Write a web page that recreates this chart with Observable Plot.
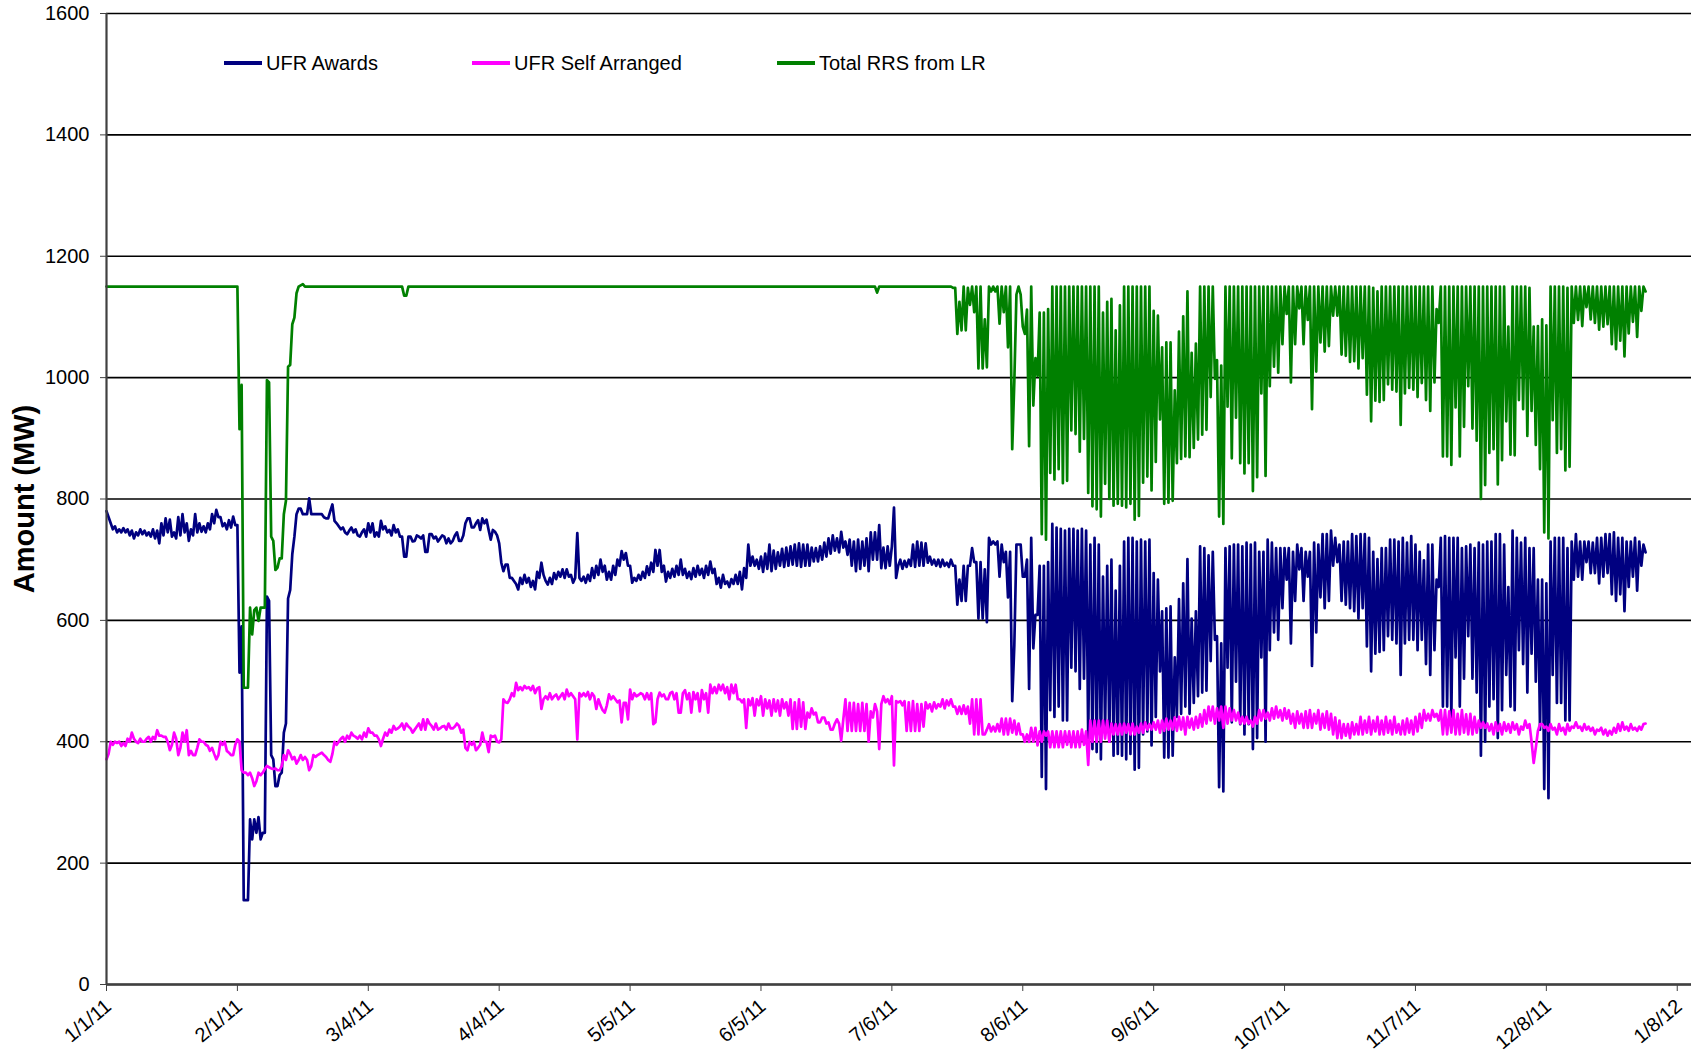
<!DOCTYPE html>
<html><head><meta charset="utf-8">
<script src="https://cdn.jsdelivr.net/npm/d3@7"></script>
<script src="https://cdn.jsdelivr.net/npm/@observablehq/plot@0.6"></script>
<style>
body{margin:0;background:#fff;}
#wrap{position:relative;width:1694px;height:1053px;overflow:hidden;}
.leg{position:absolute;top:50px;height:26px;font-family:"Liberation Sans",Arial,sans-serif;font-size:20px;color:#000;display:flex;align-items:center;white-space:nowrap;}
.sw{display:inline-block;width:38px;height:3.5px;margin-right:4px;}
</style></head>
<body><div id="wrap"></div>
<script>
// 12-hour readings starting 1/1/2011 (two values per day)
const startDate = "2011-01-01";
const stepHours = 12;
const seriesNames = ["UFR Awards", "UFR Self Arranged", "Total RRS from LR"];
const seriesColors = ["#000080", "#FF00FF", "#008000"];

const ufrAwards = [
780,770, 760,750, 755,745, 750,745, 752,745, 750,740, 748,735, 745,740, 750,742, 748,740,
745,738, 750,735, 748,727, 760,740, 768,745, 766,738, 745,735, 770,740, 775,745, 760,731,
750,740, 775,745, 760,746, 755,745, 760,750, 775,760, 782,770, 770,755, 760,750, 765,753,
771,757, 757,514, 590,139, 139,139, 272,239, 272,250, 276,239, 250,250, 639,632, 378,371,
327,327, 345,349, 415,430, 636,650, 709,738, 775,784, 784,775, 775,775, 801,775, 775,775,
775,775, 775,770, 768,768, 780,791, 764,760, 755,750, 753,745, 742,748, 753,745, 750,740,
738,745, 750,738, 760,745, 760,738, 745,738, 764,750, 755,745, 749,740, 757,745, 750,738,
738,705, 705,738, 738,730, 731,740, 738,735, 740,713, 713,742, 742,735, 738,730, 735,740,
738,727, 735,727, 731,740, 745,731, 731,740, 760,768, 768,753, 753,760, 765,749, 768,760,
766,749, 733,749, 746,740, 727,695, 681,692, 692,670, 670,665, 660,651, 670,660, 675,662,
670,655, 665,651, 680,670, 695,675, 665,659, 670,660, 678,668, 680,672, 684,670, 684,672,
675,662, 670,744, 670,665, 672,662, 675,665, 686,670, 690,675, 700,680, 690,667, 680,667,
690,675, 700,690, 714,700, 711,690, 690,662, 670,665, 675,667, 680,670, 689,675, 695,680,
716,690, 716,680, 690,664, 680,670, 685,672, 690,675, 700,675, 685,670, 680,668, 686,672,
690,675, 685,670, 690,675, 697,678, 685,660, 670,654, 675,660, 664,655, 668,660, 675,660,
680,651, 686,670, 725,690, 705,690, 700,685, 705,680, 710,685, 725,681, 715,685, 712,690,
718,688, 720,690, 722,692, 725,690, 727,688, 725,690, 725,690, 720,697, 719,697, 722,700,
728,705, 735,710, 740,715, 735,712, 746,720, 730,708, 733,690, 730,681, 733,685, 730,690,
735,681, 745,700, 745,700, 757,686, 720,686, 722,690, 722,786, 670,690, 700,685, 698,688,
700,690, 725,688, 730,690, 728,690, 727,695, 705,692, 700,690, 700,688, 700,690, 695,688,
700,690, 690,626, 667,632, 690,632, 690,690, 719,696, 696,603, 696,603, 684,597, 736,725,
730,725, 730,672, 725,696, 713,638, 713,467, 559,725, 725,725, 672,672, 700,487, 736,554,
609,609, 690,342, 690,322, 696,452, 759,441, 753,458, 751,435, 748,435, 751,522, 751,516,
748,487, 751,504, 748,406, 725,388, 736,383, 725,371, 672,420, 690,400, 700,377, 649,380,
690,377, 730,371, 736,380, 736,354, 730,357, 733,412, 730,417, 733,394, 678,441, 667,516,
615,374, 620,374, 623,377, 539,441, 635,446, 661,458, 701,446, 603,464, 615,475, 722,481,
719,484, 707,533, 713,568, 574,325, 562,318, 719,522, 722,432, 725,499, 725,429, 722,412,
728,429, 725,388, 728,406, 713,539, 713,400, 733,551, 728,580, 719,568, 719,620, 719,667,
719,562, 713,632, 725,684, 719,632, 713,672, 713,525, 728,580, 725,638, 742,620, 742,632,
748,690, 736,696, 725,632, 730,626, 730,620, 742,615, 739,603, 742,620, 742,557, 736,516,
713,545, 701,548, 719,551, 719,574, 733,568, 733,562, 730,510, 736,562, 728,568, 739,568,
725,551, 713,568, 699,528, 725,510, 725,551, 667,655, 736,458, 739,458, 736,441, 736,539,
736,458, 719,504, 722,574, 725,504, 719,481, 728,377, 725,400, 730,458, 730,470, 742,406,
742,452, 725,510, 655,458, 748,452, 736,551, 728,528, 736,481, 719,545, 719,499, 667,420,
667,322, 661,307, 730,510, 736,464, 736,464, 736,435, 719,435, 730,667, 742,672, 730,667,
730,696, 730,678, 728,678, 736,661, 736,672, 742,678, 742,643, 745,632, 736,643, 736,615,
730,655, 730,672, 736,649, 730,690, 725,712
];

const ufrSelfArranged = [
371,380, 400,395, 400,398, 400,393, 398,393, 405,400, 415,405, 400,398, 405,400, 400,405,
408,400, 408,404, 419,410, 410,408, 408,400, 386,395, 415,405, 378,390, 415,400, 419,378,
385,378, 378,390, 404,400, 400,395, 393,385, 390,380, 371,378, 400,395, 400,385, 382,378,
378,395, 404,400, 353,349, 349,345, 349,340, 327,335, 349,345, 349,355, 360,358, 356,355,
356,353, 353,360, 378,370, 386,380, 371,375, 364,370, 378,370, 375,370, 353,360, 378,375,
378,380, 382,378, 375,370, 367,380, 400,395, 400,405, 408,400, 410,405, 415,410, 408,405,
410,404, 415,408, 422,415, 415,410, 410,404, 393,405, 415,410, 420,415, 426,420, 422,425,
430,420, 430,425, 422,415, 420,425, 430,420, 437,420, 437,430, 426,420, 430,420, 422,425,
426,420, 430,422, 422,425, 430,426, 415,420, 390,386, 400,395, 400,386, 390,395, 415,400,
400,383, 410,408, 410,400, 399,404, 470,465, 464,470, 480,475, 497,485, 490,485, 492,488,
490,485, 492,480, 488,490, 454,470, 475,470, 480,470, 475,478, 470,475, 480,470, 486,475,
480,475, 470,404, 480,475, 480,475, 482,470, 480,475, 454,470, 460,452, 448,460, 478,470,
475,470, 465,468, 432,464, 464,437, 486,470, 480,475, 477,480, 478,470, 480,470, 480,429,
432,470, 481,475, 478,470, 470,480, 482,470, 480,448, 448,480, 485,470, 480,448, 482,470,
480,450, 485,470, 480,448, 494,480, 490,480, 494,485, 494,480, 490,470, 494,480, 494,470,
470,465, 470,423, 470,460, 472,443, 470,460, 475,443, 470,455, 468,443, 470,450, 468,443,
470,455, 465,443, 470,421, 465,421, 470,425, 465,421, 448,440, 455,445, 448,432, 432,440,
440,430, 432,420, 420,430, 437,430, 402,437, 470,418, 464,418, 464,418, 462,418, 464,418,
462,400, 450,440, 462,450, 388,462, 475,465, 470,462, 475,361, 467,465, 467,460, 467,418,
465,418, 467,418, 462,418, 462,425, 465,455, 462,450, 465,455, 462,458, 470,455, 468,460,
470,458, 458,446, 458,446, 460,446, 458,430, 470,412, 470,412, 470,412, 412,420, 429,417,
425,417, 429,417, 438,412, 438,412, 438,415, 435,412, 430,412, 412,400, 412,400, 423,400,
423,394, 417,400, 417,410, 417,391, 417,391, 417,391, 417,391, 417,395, 417,391, 417,391,
417,391, 420,395, 417,362, 435,400, 435,400, 435,400, 435,405, 435,400, 430,412, 429,412,
429,412, 430,415, 429,412, 430,412, 425,415, 430,415, 432,420, 429,420, 432,420, 435,415,
435,418, 438,420, 435,420, 440,418, 441,420, 440,412, 441,423, 438,420, 441,423, 445,425,
452,430, 458,435, 458,430, 455,435, 458,423, 458,430, 455,435, 452,435, 448,430, 441,430,
441,430, 435,425, 441,430, 452,435, 452,438, 448,435, 455,438, 458,440, 452,435, 455,438,
452,430, 446,423, 450,430, 446,423, 450,423, 452,423, 446,430, 452,420, 446,423, 450,420,
446,412, 440,406, 435,406, 429,410, 429,406, 432,412, 429,412, 441,412, 435,415, 441,412,
435,417, 441,412, 435,412, 441,415, 435,412, 441,415, 429,412, 435,412, 438,415, 435,412,
441,417, 446,423, 452,435, 446,435, 452,441, 446,435, 452,412, 452,412, 450,415, 452,412,
446,412, 452,415, 445,412, 446,412, 441,415, 435,423, 432,423, 430,418, 429,412, 432,418,
429,412, 432,418, 429,415, 432,420, 429,412, 425,420, 435,423, 429,400, 365,390, 418,429,
429,423, 425,418, 429,420, 423,412, 429,418, 423,412, 429,418, 425,423, 432,423, 425,418,
429,420, 425,418, 423,412, 420,418, 423,412, 420,410, 418,412, 423,415, 429,418, 432,420,
425,418, 429,420, 423,418, 425,420, 429,430
];

const totalRRSfromLR = [
1150,1150, 1150,1150, 1150,1150, 1150,1150, 1150,1150, 1150,1150, 1150,1150, 1150,1150, 1150,1150, 1150,1150,
1150,1150, 1150,1150, 1150,1150, 1150,1150, 1150,1150, 1150,1150, 1150,1150, 1150,1150, 1150,1150, 1150,1150,
1150,1150, 1150,1150, 1150,1150, 1150,1150, 1150,1150, 1150,1150, 1150,1150, 1150,1150, 1150,1150, 1150,1150,
1150,1150, 1150,915, 988,489, 489,489, 621,577, 617,621, 599,621, 621,621, 996,992, 738,731,
683,687, 702,702, 775,797, 1018,1021, 1088,1099, 1139,1150, 1152,1154, 1150,1150, 1150,1150, 1150,1150,
1150,1150, 1150,1150, 1150,1150, 1150,1150, 1150,1150, 1150,1150, 1150,1150, 1150,1150, 1150,1150, 1150,1150,
1150,1150, 1150,1150, 1150,1150, 1150,1150, 1150,1150, 1150,1150, 1150,1150, 1150,1150, 1150,1150, 1150,1150,
1150,1135, 1135,1150, 1150,1150, 1150,1150, 1150,1150, 1150,1150, 1150,1150, 1150,1150, 1150,1150, 1150,1150,
1150,1150, 1150,1150, 1150,1150, 1150,1150, 1150,1150, 1150,1150, 1150,1150, 1150,1150, 1150,1150, 1150,1150,
1150,1150, 1150,1150, 1150,1150, 1150,1150, 1150,1150, 1150,1150, 1150,1150, 1150,1150, 1150,1150, 1150,1150,
1150,1150, 1150,1150, 1150,1150, 1150,1150, 1150,1150, 1150,1150, 1150,1150, 1150,1150, 1150,1150, 1150,1150,
1150,1150, 1150,1150, 1150,1150, 1150,1150, 1150,1150, 1150,1150, 1150,1150, 1150,1150, 1150,1150, 1150,1150,
1150,1150, 1150,1150, 1150,1150, 1150,1150, 1150,1150, 1150,1150, 1150,1150, 1150,1150, 1150,1150, 1150,1150,
1150,1150, 1150,1150, 1150,1150, 1150,1150, 1150,1150, 1150,1150, 1150,1150, 1150,1150, 1150,1150, 1150,1150,
1150,1150, 1150,1150, 1150,1150, 1150,1150, 1150,1150, 1150,1150, 1150,1150, 1150,1150, 1150,1150, 1150,1150,
1150,1150, 1150,1150, 1150,1150, 1150,1150, 1150,1150, 1150,1150, 1150,1150, 1150,1150, 1150,1150, 1150,1150,
1150,1150, 1150,1150, 1150,1150, 1150,1150, 1150,1150, 1150,1150, 1150,1150, 1150,1150, 1150,1150, 1150,1150,
1150,1150, 1150,1150, 1150,1150, 1150,1150, 1150,1150, 1150,1150, 1150,1150, 1150,1150, 1150,1150, 1150,1150,
1150,1150, 1150,1150, 1150,1140, 1150,1150, 1150,1150, 1150,1150, 1150,1150, 1150,1150, 1150,1150, 1150,1150,
1150,1150, 1150,1150, 1150,1150, 1150,1150, 1150,1150, 1150,1150, 1150,1150, 1150,1150, 1150,1150, 1150,1150,
1150,1148, 1148,1072, 1125,1078, 1150,1078, 1148,1120, 1150,1108, 1150,1015, 1150,1015, 1096,1017, 1150,1142,
1150,1142, 1150,1089, 1150,1108, 1150,1050, 1150,882, 994,1137, 1150,1137, 1084,1072, 1112,887, 1150,954,
1032,1003, 1107,742, 1107,733, 1113,843, 1150,832, 1150,849, 1150,826, 1150,830, 1150,913, 1150,907,
1150,878, 1150,899, 1150,810, 1150,788, 1150,783, 1150,771, 1107,825, 1125,800, 1130,789, 1078,792,
1119,789, 1150,786, 1150,792, 1150,766, 1150,772, 1150,827, 1150,837, 1150,814, 1110,861, 1102,931,
1050,792, 1058,794, 1058,797, 979,859, 1076,866, 1101,870, 1142,869, 1041,884, 1056,898, 1150,906,
1150,914, 1150,968, 1150,998, 1029,771, 1020,759, 1150,952, 1150,867, 1150,934, 1150,859, 1150,842,
1150,859, 1150,813, 1150,836, 1150,974, 1150,838, 1150,986, 1150,1018, 1150,1008, 1150,1055, 1150,1105,
1150,992, 1150,1055, 1150,1114, 1150,1055, 1150,1095, 1150,948, 1150,1010, 1150,1058, 1150,1043, 1150,1052,
1150,1102, 1150,1102, 1150,1038, 1150,1036, 1150,1026, 1150,1027, 1150,1015, 1150,1032, 1150,972, 1150,928,
1148,962, 1142,960, 1150,963, 1150,989, 1150,980, 1150,977, 1150,922, 1150,974, 1150,983, 1150,980,
1150,968, 1150,991, 1150,963, 1150,945, 1150,992, 1113,1090, 1150,870, 1150,870, 1150,856, 1150,951,
1150,870, 1150,919, 1150,986, 1150,916, 1150,896, 1150,800, 1150,823, 1150,876, 1150,882, 1150,824,
1150,864, 1150,928, 1084,873, 1150,872, 1150,963, 1150,948, 1150,904, 1148,945, 1084,889, 1085,849,
1096,745, 1086,735, 1150,930, 1150,876, 1150,882, 1150,847, 1148,853, 1150,1090, 1150,1095, 1150,1085,
1150,1116, 1150,1096, 1150,1090, 1150,1079, 1150,1084, 1150,1088, 1150,1055, 1150,1047, 1150,1061, 1150,1035,
1150,1073, 1150,1092, 1150,1067, 1150,1110, 1150,1142
];

const xTickLabels = ["1/1/11","2/1/11","3/4/11","4/4/11","5/5/11","6/5/11","7/6/11","8/6/11","9/6/11","10/7/11","11/7/11","12/8/11","1/8/12"];
const yTicks = [0, 200, 400, 600, 800, 1000, 1200, 1400, 1600];
const xDomainEnd = "2012-01-11T09:00:00Z";

// ---- build ----
const t0 = new Date(startDate + "T00:00:00Z").getTime();
function toRows(values) {
  return values.map((v, i) => ({date: new Date(t0 + i * stepHours * 3600e3), value: v}));
}
const tickDates = xTickLabels.map(s => {
  const [m, d, y] = s.split("/").map(Number);
  return new Date(Date.UTC(2000 + y, m - 1, d));
});
const allSeries = [ufrAwards, ufrSelfArranged, totalRRSfromLR];
const sans = '"Liberation Sans", Arial, sans-serif';

const chart = Plot.plot({
  width: 1694,
  height: 1053,
  marginLeft: 106,
  marginRight: 3,
  marginTop: 13,
  marginBottom: 69,
  x: {type: "utc", domain: [new Date(t0), new Date(xDomainEnd)]},
  y: {domain: [0, 1600]},
  style: {fontFamily: sans, fontSize: "20px", color: "#000", background: "#fff"},
  marks: [
    Plot.gridY(yTicks, {stroke: "#000", strokeOpacity: 1, strokeWidth: 1.6}),
    Plot.axisY(yTicks, {tickSize: 6, tickPadding: 11, label: null, stroke: "#404040", fontSize: 20, tickFormat: d => String(d)}),
    Plot.axisX(tickDates, {tickSize: 7, tickFormat: () => "", label: null, stroke: "#404040"}),
    ...allSeries.map((vals, k) => Plot.line(toRows(vals), {x: "date", y: "value", stroke: seriesColors[k], strokeWidth: 2.7, strokeLinejoin: "round"})),
    Plot.ruleX([new Date(t0)], {stroke: "#404040", strokeWidth: 2.2}),
    Plot.ruleY([0], {stroke: "#404040", strokeWidth: 2.5}),
    Plot.text(tickDates, {x: d => d, text: (d, i) => xTickLabels[i], frameAnchor: "bottom", rotate: -40, textAnchor: "end", lineAnchor: "middle", dy: 19, dx: 2, fontSize: 20}),
    Plot.text(["Amount (MW)"], {frameAnchor: "left", rotate: -90, textAnchor: "middle", lineAnchor: "middle", dx: -82, fontWeight: "bold", fontSize: 29})
  ]
});

const wrap = document.getElementById("wrap");
wrap.appendChild(chart);
const legendX = [224, 472, 777];
seriesNames.forEach((name, k) => {
  const item = document.createElement("div");
  item.className = "leg";
  item.style.left = legendX[k] + "px";
  const sw = document.createElement("span");
  sw.className = "sw";
  sw.style.background = seriesColors[k];
  item.appendChild(sw);
  item.appendChild(document.createTextNode(name));
  wrap.appendChild(item);
});
</script>
</body></html>
